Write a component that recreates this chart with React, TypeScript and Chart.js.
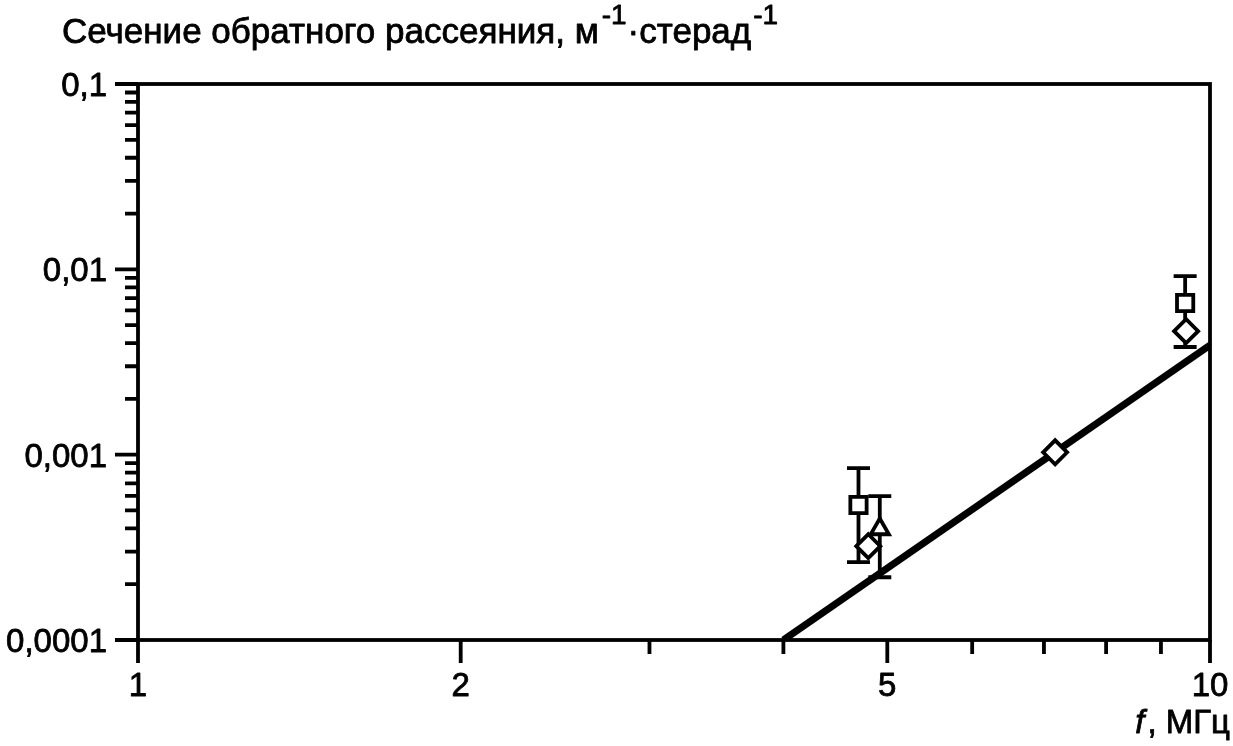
import React, { useEffect, useRef } from 'react';
import { Chart, registerables } from 'chart.js';

Chart.register(...registerables);

const FONT = '"Liberation Sans", Arial, sans-serif';

const X_MIN = 1;
const X_MAX = 10;
const Y_MIN = 0.0001;
const Y_MAX = 0.1;

const xMajorTicks = [1, 2, 5, 10];
const xMajorLabels = ['1', '2', '5', '10'];
const xMinorTicks = [3, 4, 6, 7, 8, 9];

const yMajorTicks = [0.0001, 0.001, 0.01, 0.1];
const yMajorLabels = ['0,0001', '0,001', '0,01', '0,1'];
const yMinorTicks = [
  0.0002, 0.0003, 0.0004, 0.0005, 0.0006, 0.0007, 0.0008, 0.0009,
  0.002, 0.003, 0.004, 0.005, 0.006, 0.007, 0.008, 0.009,
  0.02, 0.03, 0.04, 0.05, 0.06, 0.07, 0.08, 0.09,
];

const titleMain = 'Сечение обратного рассеяния, м';
const titleSup1 = '-1';
const titleMid = '·стерад';
const titleSup2 = '-1';
const xTitleItalic = 'f';
const xTitleRest = ', МГц';

const fitLineX = [4.0, 10];
const fitLineY = [0.0001, 0.0039];

const diamondX = [4.8, 7.17, 9.5];
const diamondY = [0.000321, 0.00103, 0.00464];

const squareX = [4.7, 9.48];
const squareY = [0.000535, 0.00658];
const squareErrLow = [0.000263, 0.00381];
const squareErrHigh = [0.000847, 0.0092];

const triangleX = [4.92];
const triangleY = [0.000397];
const triangleErrLow = [0.000218];
const triangleErrHigh = [0.000598];

const toPoints = (xs: number[], ys: number[]) => xs.map((x, i) => ({ x, y: ys[i] }));

const errorSets = [
  { xs: squareX, lo: squareErrLow, hi: squareErrHigh },
  { xs: triangleX, lo: triangleErrLow, hi: triangleErrHigh },
];

const drawText = (ctx: CanvasRenderingContext2D, s: string, x: number, y: number) => {
  ctx.fillText(s, x, y);
  ctx.strokeText(s, x, y);
};

const decorPlugin = {
  id: 'decor',
  beforeDatasetsDraw(chart: any) {
    const ctx = chart.ctx as CanvasRenderingContext2D;
    const xs = chart.scales.x;
    const ys = chart.scales.y;
    ctx.save();
    ctx.strokeStyle = '#000';
    ctx.lineWidth = 3.8;
    const cap = 11.5;
    errorSets.forEach((s) => {
      s.xs.forEach((xv, i) => {
        const px = xs.getPixelForValue(xv);
        const pLo = ys.getPixelForValue(s.lo[i]);
        const pHi = ys.getPixelForValue(s.hi[i]);
        ctx.beginPath();
        ctx.moveTo(px, pLo);
        ctx.lineTo(px, pHi);
        ctx.moveTo(px - cap, pLo);
        ctx.lineTo(px + cap, pLo);
        ctx.moveTo(px - cap, pHi);
        ctx.lineTo(px + cap, pHi);
        ctx.stroke();
      });
    });
    ctx.restore();
  },
  afterDraw(chart: any) {
    const ctx = chart.ctx as CanvasRenderingContext2D;
    const a = chart.chartArea;
    const xs = chart.scales.x;
    const ys = chart.scales.y;
    ctx.save();
    ctx.strokeStyle = '#000';
    ctx.fillStyle = '#000';
    ctx.lineWidth = 3.8;
    ctx.lineCap = 'butt';
    // frame
    ctx.strokeRect(a.left, a.top, a.right - a.left, a.bottom - a.top);
    // x ticks
    ctx.beginPath();
    xMajorTicks.forEach((v) => {
      const p = xs.getPixelForValue(v);
      ctx.moveTo(p, a.bottom);
      ctx.lineTo(p, a.bottom + 23);
    });
    xMinorTicks.forEach((v) => {
      const p = xs.getPixelForValue(v);
      ctx.moveTo(p, a.bottom);
      ctx.lineTo(p, a.bottom + 14);
    });
    // y ticks
    yMajorTicks.forEach((v) => {
      const p = ys.getPixelForValue(v);
      ctx.moveTo(a.left, p);
      ctx.lineTo(a.left - 23, p);
    });
    yMinorTicks.forEach((v) => {
      const p = ys.getPixelForValue(v);
      ctx.moveTo(a.left, p);
      ctx.lineTo(a.left - 13, p);
    });
    ctx.stroke();

    ctx.lineWidth = 0.8;
    ctx.lineJoin = 'round';

    // tick labels
    ctx.font = `33px ${FONT}`;
    ctx.textBaseline = 'alphabetic';
    ctx.textAlign = 'center';
    xMajorTicks.forEach((v, i) => {
      const p = xs.getPixelForValue(v);
      drawText(ctx, xMajorLabels[i], p, a.bottom + 56);
    });
    ctx.textAlign = 'right';
    yMajorTicks.forEach((v, i) => {
      const p = ys.getPixelForValue(v);
      drawText(ctx, yMajorLabels[i], a.left - 31, p + 12);
    });

    // x title
    ctx.textAlign = 'left';
    ctx.font = `33px ${FONT}`;
    const wRest = ctx.measureText(xTitleRest).width;
    ctx.font = `italic 33px ${FONT}`;
    const wIt = ctx.measureText(xTitleItalic).width;
    const right = 1230;
    drawText(ctx, xTitleItalic, right - wRest - wIt - 3, 733);
    ctx.font = `33px ${FONT}`;
    drawText(ctx, xTitleRest, right - wRest, 733);

    // chart title
    let x = 62;
    const base = 43;
    const supBase = 24;
    ctx.font = `35px ${FONT}`;
    drawText(ctx, titleMain, x, base);
    x += ctx.measureText(titleMain).width + 3;
    ctx.font = `28px ${FONT}`;
    drawText(ctx, titleSup1, x, supBase);
    x += ctx.measureText(titleSup1).width + 1;
    ctx.font = `35px ${FONT}`;
    drawText(ctx, titleMid, x, base);
    x += ctx.measureText(titleMid).width + 2;
    ctx.font = `28px ${FONT}`;
    drawText(ctx, titleSup2, x, supBase);
    ctx.restore();
  },
};

export default function App() {
  const ref = useRef<HTMLCanvasElement>(null);
  useEffect(() => {
    if (!ref.current) return;
    const chart = new Chart(ref.current, {
      type: 'scatter',
      data: {
        datasets: [
          {
            label: 'diamonds',
            data: toPoints(diamondX, diamondY),
            pointStyle: 'rectRot',
            pointRadius: 12,
            pointHoverRadius: 12,
            pointBorderWidth: 3.8,
            pointBackgroundColor: '#fff',
            pointBorderColor: '#000',
            order: 1,
          },
          {
            label: 'squares',
            data: toPoints(squareX, squareY),
            pointStyle: 'rect',
            pointRadius: 11.5,
            pointHoverRadius: 11.5,
            pointBorderWidth: 3.8,
            pointBackgroundColor: '#fff',
            pointBorderColor: '#000',
            order: 2,
          },
          {
            label: 'triangles',
            data: toPoints(triangleX, triangleY),
            pointStyle: 'triangle',
            pointRadius: 10.5,
            pointHoverRadius: 10.5,
            pointBorderWidth: 3.8,
            pointBackgroundColor: '#fff',
            pointBorderColor: '#000',
            order: 3,
          },
          {
            type: 'line',
            label: 'fit',
            data: toPoints(fitLineX, fitLineY),
            borderColor: '#000',
            borderWidth: 7,
            pointRadius: 0,
            showLine: true,
            fill: false,
            order: 4,
          } as any,
        ],
      },
      options: {
        responsive: false,
        animation: false,
        events: [],
        layout: { padding: { left: 138, top: 84, right: 23, bottom: 106 } },
        plugins: { legend: { display: false }, tooltip: { enabled: false }, title: { display: false } },
        scales: {
          x: { type: 'logarithmic', min: X_MIN, max: X_MAX, display: false },
          y: { type: 'logarithmic', min: Y_MIN, max: Y_MAX, display: false },
        },
      },
      plugins: [decorPlugin],
    });
    return () => chart.destroy();
  }, []);
  return (
    <div style={{ position: 'fixed', left: 0, top: 0, width: 1233, height: 746, background: '#fff' }}>
      <canvas ref={ref} width={1233} height={746} style={{ width: 1233, height: 746, display: 'block' }} />
    </div>
  );
}
